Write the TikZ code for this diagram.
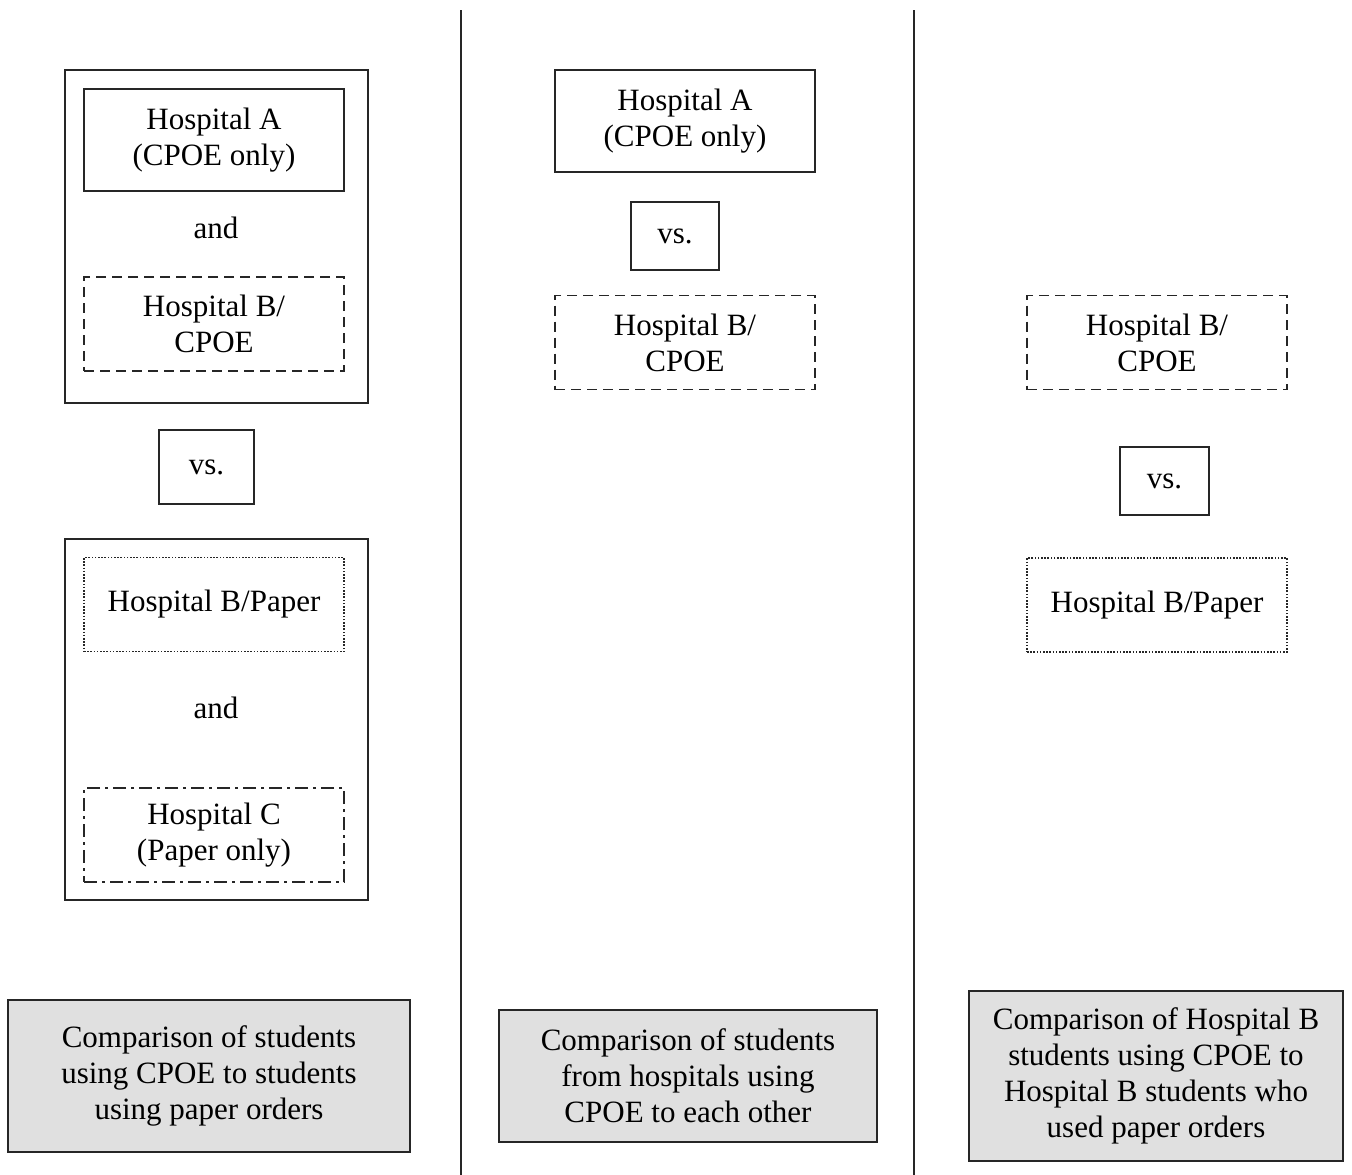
\documentclass[tikz,border=0pt]{standalone}
\usepackage{fontspec}
\setmainfont{Liberation Serif}
\begin{document}
\begin{tikzpicture}[x=1pt,y=-1pt,
  every node/.style={font=\fontsize{31}{36}\selectfont, align=center, inner sep=0pt},
  frame/.style={draw=black!85, line width=1.8pt, rectangle},
  hbox/.style={frame, minimum width=260pt, minimum height=#1},
  hbox/.default=94pt,
  dashbox/.style={hbox, dash pattern=on 10pt off 6pt},
  dotbox/.style={hbox, dash pattern=on 1.6pt off 1.6pt, line width=1.5pt},
  dashdotbox/.style={hbox, dash pattern=on 13pt off 5pt on 3pt off 5pt},
  summary/.style={frame, fill=black!12},
  divider/.style={draw=black!85, line width=1.8pt}
]
\useasboundingbox (0,0) rectangle (1352,1175);

% dividers
\coordinate (d1t) at (461,10); \coordinate (d1b) at (461,1175);
\coordinate (d2t) at (914,10); \coordinate (d2b) at (914,1175);
\draw[divider] (d1t) -- (d1b);
\draw[divider] (d2t) -- (d2b);

% left panel
\node[frame, minimum width=303pt, minimum height=333pt] (g1) at (216.5,236.5) {};
\node[hbox=102pt] (la) at (214,140) {Hospital A\\(CPOE only)};
\node (land1) at (216,228) {and};
\node[dashbox] (lb) at (214,324) {Hospital B/\\CPOE};
\node[frame, minimum width=95pt, minimum height=74pt] (lvs) at (206.5,467) {vs.};
\node[frame, minimum width=303pt, minimum height=361pt] (g2) at (216.5,719.5) {};
\node[dotbox] (lbp) at (214,604.5) {Hospital B/Paper};
\node (land2) at (216,708) {and};
\node[dashdotbox] (lc) at (214,835) {Hospital C\\(Paper only)};
\node[summary, minimum width=402pt, minimum height=152pt] (ls) at (209,1076)
  {Comparison of students\\using CPOE to students\\using paper orders};

% middle panel
\node[hbox=102pt] (ma) at (685,121) {Hospital A\\(CPOE only)};
\node[frame, minimum width=88pt, minimum height=68pt] (mvs) at (675,236) {vs.};
\node[dashbox] (mb) at (685,342.5) {Hospital B/\\CPOE};
\node[summary, minimum width=378pt, minimum height=132pt] (ms) at (688,1076)
  {Comparison of students\\from hospitals using\\CPOE to each other};

% right panel
\node[dashbox] (rb) at (1157,342.5) {Hospital B/\\CPOE};
\node[frame, minimum width=89pt, minimum height=68pt] (rvs) at (1164.5,481) {vs.};
\node[dotbox] (rbp) at (1157,605) {Hospital B/Paper};
\node[summary, minimum width=374pt, minimum height=170pt] (rs) at (1156,1076)
  {Comparison of Hospital B\\students using CPOE to\\Hospital B students who\\used paper orders};
\end{tikzpicture}
\end{document}
